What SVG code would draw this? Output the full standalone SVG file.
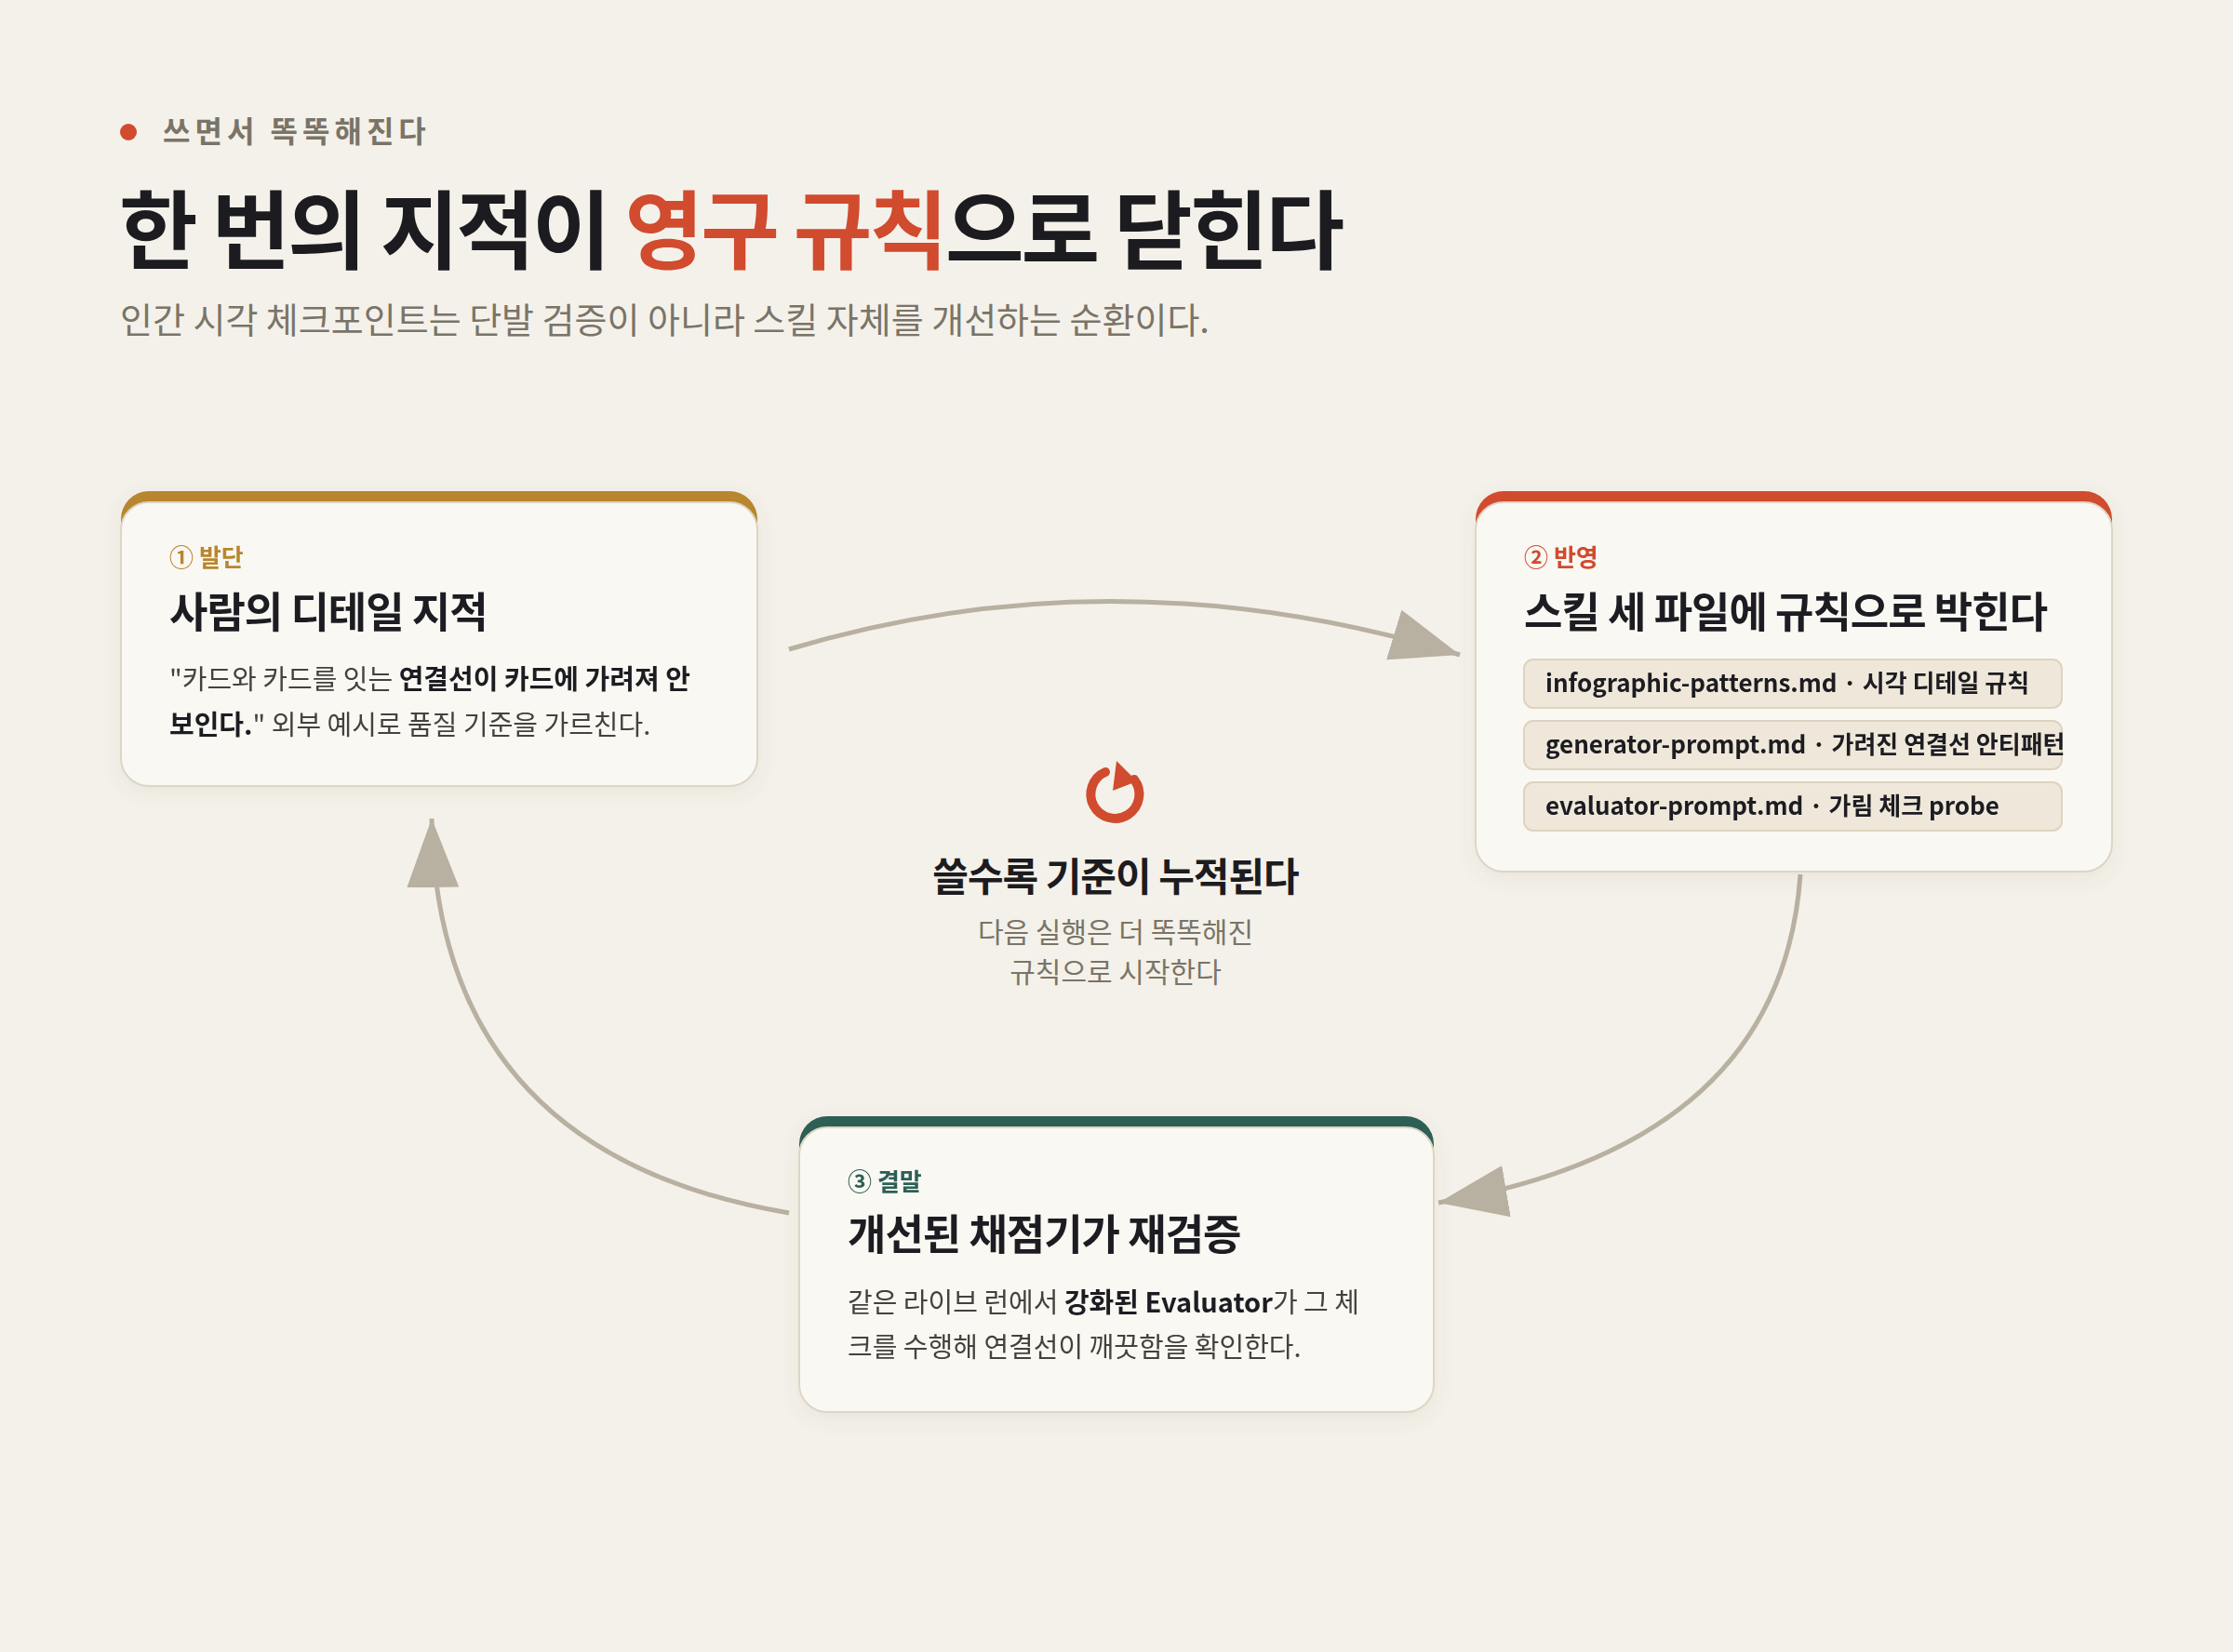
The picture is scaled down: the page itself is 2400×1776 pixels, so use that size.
<svg xmlns="http://www.w3.org/2000/svg" width="2400" height="1776" viewBox="0 0 2400 1776">
<style>
text{font-family:"Noto Sans CJK KR","Noto Sans",sans-serif}
.card{fill:#faf8f3;stroke:#ddd5c6;stroke-width:2}
.step{font-size:26px;font-weight:700}
.ct{font-size:45px;font-weight:700;fill:#1c1c20;letter-spacing:-1px}
.body{font-size:29px;fill:#44423e}
.b{font-weight:700;fill:#1c1c20}
.pill{fill:#efe8da;stroke:#ddd3c0;stroke-width:2}
.pt{font-size:26px;font-weight:700;fill:#1c1c20}
.con{fill:none;stroke:#b8b0a0;stroke-width:5}
</style>
<defs>
<filter id="sh" x="-10%" y="-10%" width="120%" height="130%"><feDropShadow dx="0" dy="6" stdDeviation="10" flood-color="#6b5a3a" flood-opacity="0.08"/></filter>
<marker id="ah" markerUnits="userSpaceOnUse" markerWidth="80" markerHeight="60" refX="74" refY="28" orient="auto"><path d="M0,0 L74,28 L0,56 Z" fill="#b8b0a0"/></marker>
</defs>
<rect width="2400" height="1776" fill="#f4f1ea"/>
<g id="header">
<circle cx="138" cy="142" r="9" fill="#d14b2e"/>
<text x="175" y="153" font-size="32" font-weight="700" fill="#7a7468" letter-spacing="5">쓰면서 똑똑해진다</text>
<text x="128" y="282" font-size="92" font-weight="700" fill="#1c1c20" letter-spacing="-3">한 번의 지적이 <tspan fill="#d14b2e">영구 규칙</tspan>으로 닫힌다</text>
<text x="129" y="358" font-size="38" fill="#7a7468">인간 시각 체크포인트는 단발 검증이 아니라 스킬 자체를 개선하는 순환이다.</text>
</g>
<g id="connectors">
<path class="con" d="M848 698 Q1200 592 1569 704" marker-end="url(#ah)"/>
<path class="con" d="M1935 940 Q1915 1230 1546 1293" marker-end="url(#ah)"/>
<path class="con" d="M848 1304 Q470 1240 464 880" marker-end="url(#ah)"/>
</g>
<g id="card1" filter="url(#sh)">
<rect x="130" y="528" width="684" height="80" rx="30" fill="#b8862e"/>
<rect class="card" x="130" y="540" width="684" height="305" rx="30"/>
<text class="step" x="182" y="609" fill="#b8862e">① 발단</text>
<text class="ct" x="182" y="675">사람의 디테일 지적</text>
<text class="body" x="182" y="741">"카드와 카드를 잇는 <tspan class="b">연결선이 카드에 가려져 안</tspan></text>
<text class="body" x="182" y="790"><tspan class="b">보인다.</tspan>" 외부 예시로 품질 기준을 가르친다.</text>
</g>
<g id="card2" filter="url(#sh)">
<rect x="1586" y="528" width="684" height="80" rx="30" fill="#d14b2e"/>
<rect class="card" x="1586" y="540" width="684" height="397" rx="30"/>
<text class="step" x="1638" y="609" fill="#d14b2e">② 반영</text>
<text class="ct" x="1638" y="675">스킬 세 파일에 규칙으로 박힌다</text>
<rect class="pill" x="1638" y="709" width="578" height="52" rx="10"/>
<text class="pt" x="1661" y="744">infographic-patterns.md · 시각 디테일 규칙</text>
<rect class="pill" x="1638" y="775" width="578" height="52" rx="10"/>
<text class="pt" x="1661" y="810">generator-prompt.md · 가려진 연결선 안티패턴</text>
<rect class="pill" x="1638" y="841" width="578" height="52" rx="10"/>
<text class="pt" x="1661" y="876">evaluator-prompt.md · 가림 체크 probe</text>
</g>
<g id="card3" filter="url(#sh)">
<rect x="859" y="1200" width="682" height="80" rx="30" fill="#2e5e55"/>
<rect class="card" x="859" y="1212" width="682" height="306" rx="30"/>
<text class="step" x="911" y="1280" fill="#2e5e55">③ 결말</text>
<text class="ct" x="911" y="1344">개선된 채점기가 재검증</text>
<text class="body" x="911" y="1411">같은 라이브 런에서 <tspan class="b">강화된 Evaluator</tspan>가 그 체</text>
<text class="body" x="911" y="1459">크를 수행해 연결선이 깨끗함을 확인한다.</text>
</g>
<g id="center">
<path d="M1219 838 A26 26 0 1 1 1188 830" fill="none" stroke="#d14b2e" stroke-width="10" stroke-linecap="round"/>
<path d="M1200 818 L1222 840 L1196 850 Z" fill="#d14b2e" transform="rotate(0)"/>
<text x="1199" y="958" text-anchor="middle" font-size="42" font-weight="700" fill="#1c1c20" letter-spacing="-1">쓸수록 기준이 누적된다</text>
<text x="1199" y="1013" text-anchor="middle" font-size="30" fill="#7a7468">다음 실행은 더 똑똑해진</text>
<text x="1199" y="1056" text-anchor="middle" font-size="30" fill="#7a7468">규칙으로 시작한다</text>
</g>
</svg>
